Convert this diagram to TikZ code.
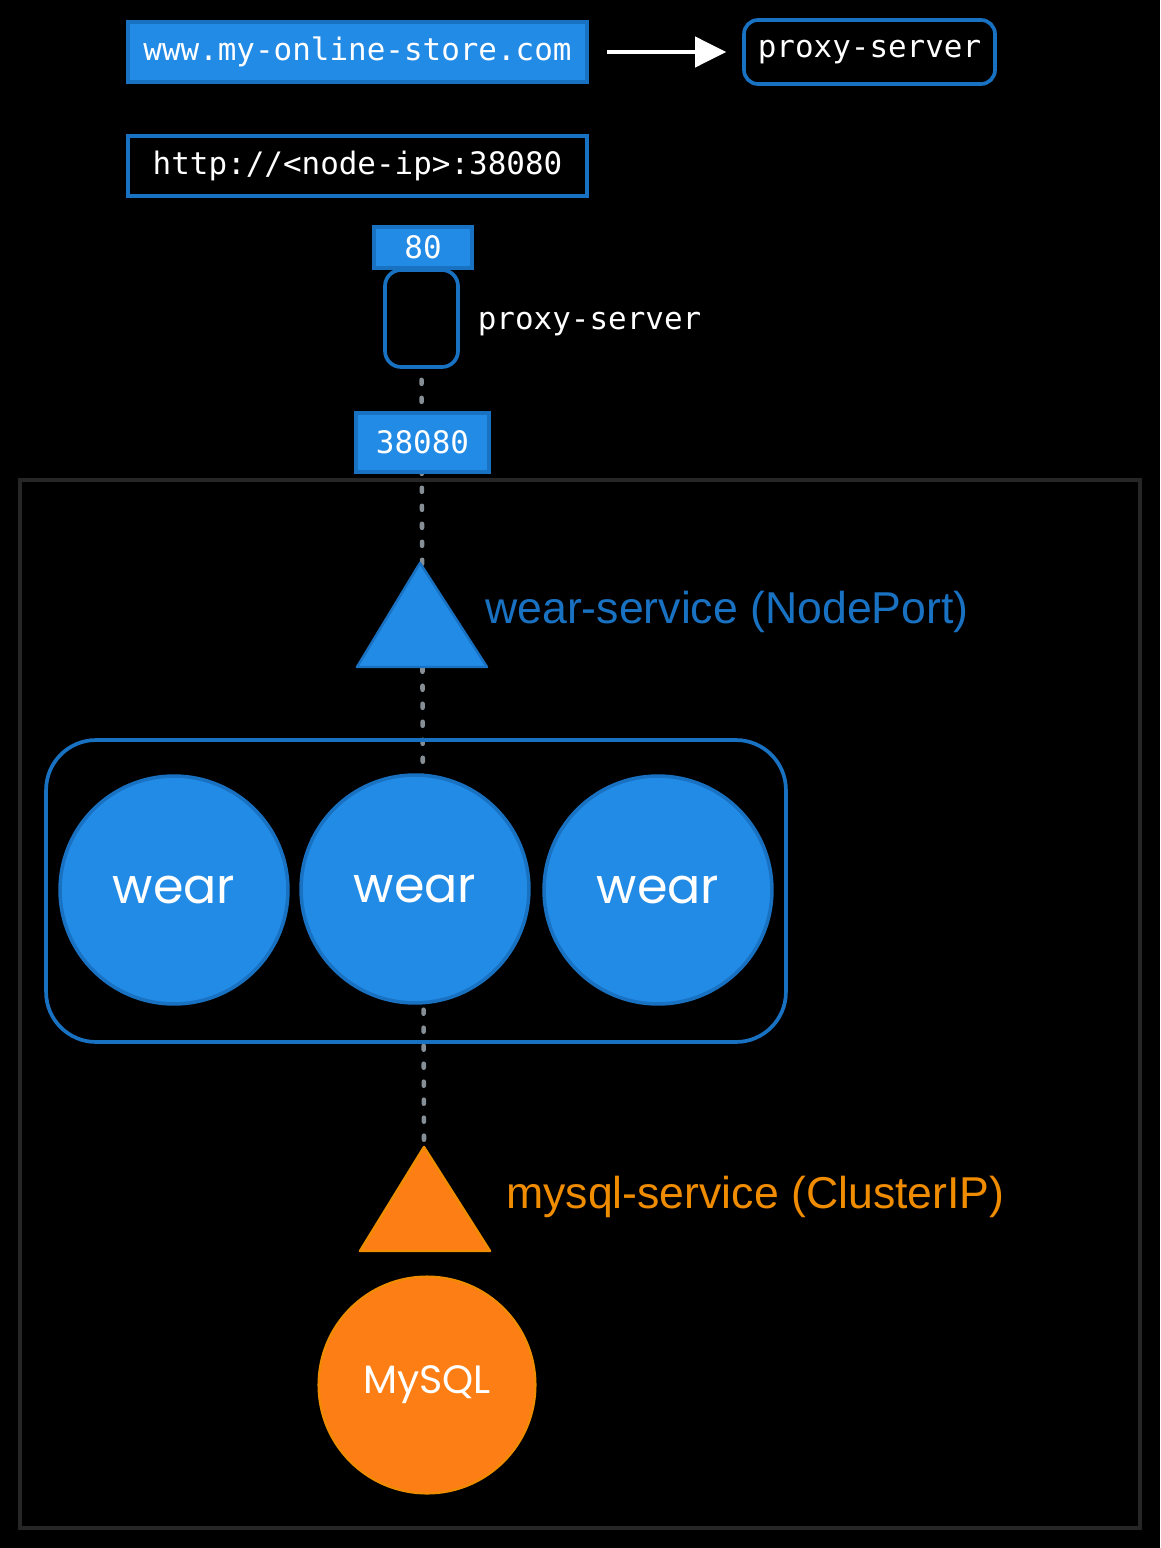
\documentclass[tikz,border=0pt]{standalone}
\usepackage{fontspec}
\setmainfont{Liberation Sans}
\setmonofont{DejaVu Sans Mono}
\newfontfamily\handfont{Poppins}
\usepackage{xcolor}
\usetikzlibrary{arrows.meta}

\definecolor{bluefill}{HTML}{228BE6}
\definecolor{blueline}{HTML}{1971C2}
\definecolor{orangefill}{HTML}{FD7E14}
\definecolor{orangeline}{HTML}{F08C00}
\definecolor{framegray}{HTML}{262626}
\definecolor{wiregray}{HTML}{868E96}

\pgfdeclarelayer{back}
\pgfdeclarelayer{wire}
\pgfsetlayers{back,wire,main}

\begin{document}
\begin{tikzpicture}[x=0.02cm, y=-0.02cm]
            \begin{pgfonlayer}{back}
                \fill[black] (0,0) rectangle (1160,1548);
                \draw[framegray, line width=2.3pt] (20,480) rectangle (1140,1528);
            \end{pgfonlayer}
            \useasboundingbox (0,0) rectangle (1160,1548);

            \begin{scope}[every node/.style = {draw=blueline, line width=2.1pt, text=white, inner sep=0pt,
                            font=\ttfamily\fontsize{17.6}{20}\selectfont}]
                \node[fill=bluefill, minimum width=9.18cm, minimum height=1.2cm] (url)   at (357.5,52)  {www.my-online-store.com};
                \node[fill=black, rounded corners=0.28cm, minimum width=5.02cm, minimum height=1.28cm] (proxy) at (869.5,52) {proxy-server};
                \node[fill=black, minimum width=9.18cm, minimum height=1.2cm] (http)  at (357.5,166) {http://<node-ip>:38080};
                \node[fill=bluefill, minimum width=1.96cm, minimum height=0.82cm] (p80)   at (423,247.5) {80};
                \node[fill=black, rounded corners=0.32cm, minimum width=1.46cm, minimum height=1.94cm] (pod) at (421.5,318.5) {};
                \node[fill=bluefill, minimum width=2.66cm, minimum height=1.18cm] (p38080) at (422.5,442.5) {38080};
                \node[draw=none, anchor=west] (podlabel) at (476,324) {proxy-server};
            \end{scope}

            \begin{scope}[>={Triangle[white, length=0.62cm, width=0.6cm]}]
                \path [->] (url) edge[draw=white, line width=2.3pt, shorten <=0.36cm, shorten >=0.32cm] (proxy);
            \end{scope}

            % services
            \coordinate (wsTop) at (420,563);
            \filldraw[fill=bluefill, draw=blueline, line width=1.4pt, line join=round]
                (wsTop) -- (357,667) -- (487,667) -- cycle;
            \node[anchor=west, text=blueline, font=\fontsize{25.4}{28}\selectfont] (wslabel) at (479,612) {wear-service (NodePort)};

            \coordinate (sqlTop) at (424,1147);
            \filldraw[fill=orangefill, draw=orangeline, line width=1.4pt, line join=round]
                (sqlTop) -- (360,1251) -- (490,1251) -- cycle;
            \node[anchor=west, text=orangeline, font=\fontsize{25.4}{28}\selectfont] (sqllabel) at (500,1197) {mysql-service (ClusterIP)};

            % pods
            \node[draw=blueline, line width=2.1pt, rounded corners=1cm, minimum width=14.8cm, minimum height=6.04cm] (group) at (416,891) {};
            \begin{scope}[every node/.style = {circle, fill=bluefill, draw=blueline, line width=2pt, minimum size=4.56cm,
                            text=white, font=\handfont\fontsize{28}{30}\selectfont}]
                \node (wearA) at (174,890) {wear};
                \node (wearB) at (415,889) {wear};
                \node (wearC) at (658,890) {wear};
            \end{scope}
            \node[circle, fill=orangefill, draw=orangeline, line width=1.2pt, minimum size=4.34cm,
                  text=white, font=\handfont\fontsize{22.5}{24}\selectfont] (mysql) at (427,1385) {MySQL};

            \begin{pgfonlayer}{wire}
                \draw[wiregray, line width=2.6pt, line cap=round, dash pattern=on 0.08cm off 0.28cm, shorten <=0.22cm]
                    (pod.south) -- (sqlTop);
            \end{pgfonlayer}
        \end{tikzpicture}
\end{document}
